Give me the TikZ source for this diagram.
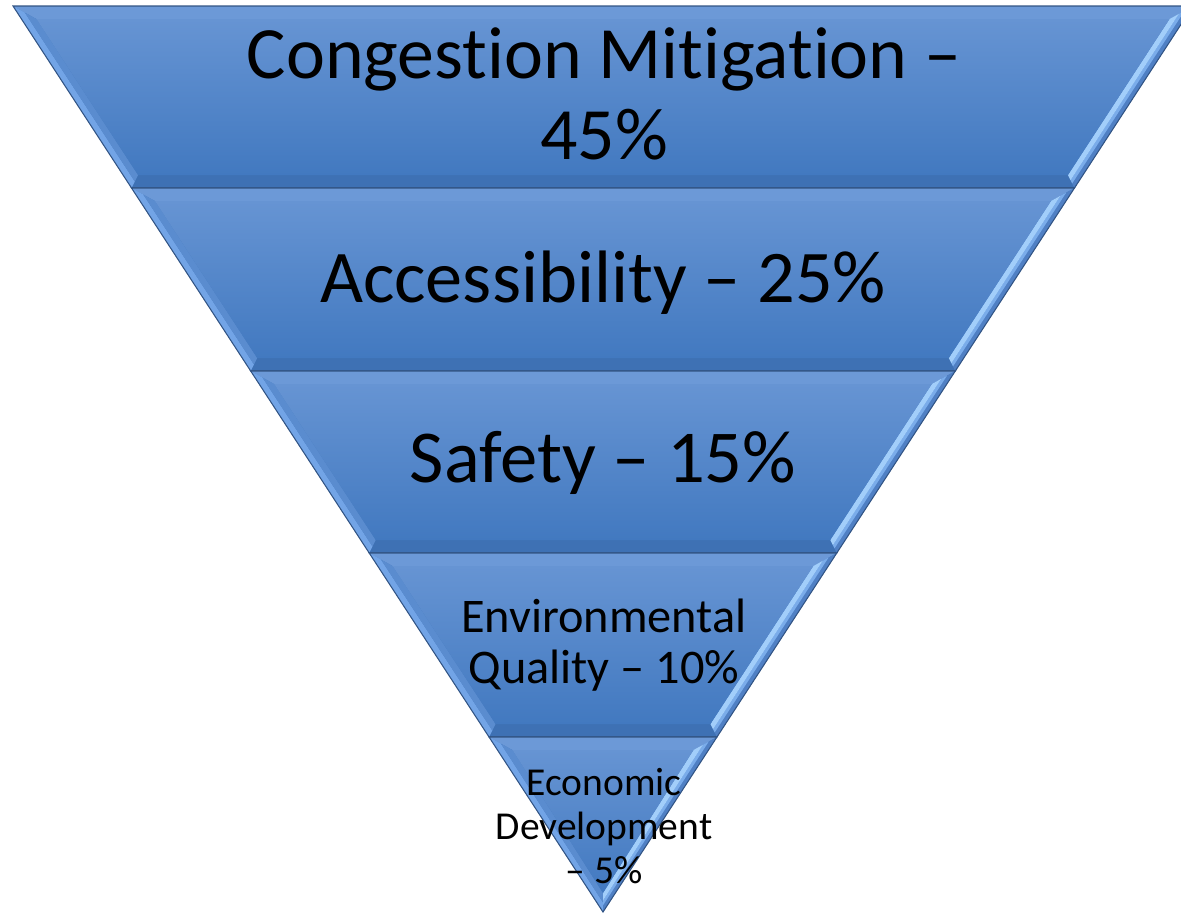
\documentclass[tikz,border=0pt]{standalone}
\usepackage{fontspec}
\setmainfont{Carlito}[RawFeature={-liga;-clig;-calt;-dlig}]
\definecolor{faceTop}{RGB}{102,148,211}
\definecolor{faceBot}{RGB}{66,121,192}
\definecolor{topBand}{RGB}{108,153,215}
\definecolor{botBand}{RGB}{62,113,180}
\definecolor{leftOuter}{RGB}{114,164,230}
\definecolor{leftInner}{RGB}{90,140,207}
\definecolor{rightOuter}{RGB}{80,128,196}
\definecolor{rightMid}{RGB}{122,172,234}
\definecolor{rightInner}{RGB}{162,206,250}
\definecolor{edgeCol}{RGB}{50,84,132}
\tikzset{
  edgeline/.style={draw=edgeCol, line width=0.6pt, line join=miter},
  lbl/.style={text=black, inner sep=0pt, align=center, anchor=base},
}
\def\tb{13}\def\hb{15}
\def\Lt#1{({13+0.6512*(\yt+\tb*#1-6)+\hb*#1},{\yt+\tb*#1})}
\def\Lb#1{({13+0.6512*(\yb-\tb*#1-6)+\hb*#1},{\yb-\tb*#1})}
\def\Rt#1{({1193-0.6512*(\yt+\tb*#1-6)-\hb*#1},{\yt+\tb*#1})}
\def\Rb#1{({1193-0.6512*(\yb-\tb*#1-6)-\hb*#1},{\yb-\tb*#1})}
\def\Ab#1{(603,{912-19*#1})}
\newcommand\pyrlayer[2]{%
  \def\yt{#1}\def\yb{#2}%
  \fill[faceBot] \Lt0 -- \Rt0 -- \Rb0 -- \Lb0 -- cycle;
  \fill[topBand] \Lt0 -- \Rt0 -- \Rt1 -- \Lt1 -- cycle;
  \fill[botBand] \Lb0 -- \Rb0 -- \Rb1 -- \Lb1 -- cycle;
  \fill[leftOuter] \Lt0 -- \Lt{.5} -- \Lb{.5} -- \Lb0 -- cycle;
  \fill[leftInner] \Lt{.5} -- \Lt1 -- \Lb1 -- \Lb{.5} -- cycle;
  \fill[rightOuter] \Rt0 -- \Rt{.35} -- \Rb{.35} -- \Rb0 -- cycle;
  \fill[rightMid] \Rt{.35} -- \Rt{.6} -- \Rb{.6} -- \Rb{.35} -- cycle;
  \fill[rightInner] \Rt{.6} -- \Rt1 -- \Rb1 -- \Rb{.6} -- cycle;
  \shade[top color=faceTop, bottom color=faceBot] \Lt1 -- \Rt1 -- \Rb1 -- \Lb1 -- cycle;
  \draw[edgeline] \Lt0 -- \Rt0 -- \Rb0 -- \Lb0 -- cycle;
}
\begin{document}
\begin{tikzpicture}[x={(0.02cm,0)}, y={(0,-0.02cm)}]
\useasboundingbox (0,0) rectangle (1181,914);
\begin{scope}
\clip (0,0) rectangle (1181,914);
\pyrlayer{6}{188}
\pyrlayer{188}{371}
\pyrlayer{371}{553}
\pyrlayer{553}{737}
% bottom triangle layer
\def\yt{737}
\fill[faceBot] \Lt0 -- \Rt0 -- \Ab0 -- cycle;
\fill[topBand] \Lt0 -- \Rt0 -- \Rt1 -- \Lt1 -- cycle;
\fill[leftOuter] \Lt0 -- \Lt{.5} -- \Ab{.5} -- \Ab0 -- cycle;
\fill[leftInner] \Lt{.5} -- \Lt1 -- \Ab1 -- \Ab{.5} -- cycle;
\fill[rightOuter] \Rt0 -- \Rt{.35} -- \Ab{.35} -- \Ab0 -- cycle;
\fill[rightMid] \Rt{.35} -- \Rt{.6} -- \Ab{.6} -- \Ab{.35} -- cycle;
\fill[rightInner] \Rt{.6} -- \Rt1 -- \Ab1 -- \Ab{.6} -- cycle;
\shade[top color=faceTop, bottom color=faceBot] \Lt1 -- \Rt1 -- \Ab1 -- cycle;
\draw[edgeline] \Lt0 -- \Rt0 -- \Ab0 -- cycle;
\end{scope}
\node[lbl, font=\fontsize{42}{46}\selectfont] (t1) at (604,159) {Congestion Mitigation –\\45\%};
\node[lbl, font=\fontsize{42.3}{46}\selectfont] (t2) at (603,302) {Accessibility – 25\%};
\node[lbl, font=\fontsize{42.5}{46}\selectfont] (t3) at (603,482) {Safety – 15\%};
\node[lbl, font=\fontsize{27.5}{29}\selectfont] (t4) at (604,683) {Environmental\\Quality – 10\%};
\node[lbl, font=\fontsize{22.5}{25}\selectfont] (t5) at (604,883) {Economic\\Development\\– 5\%};
\end{tikzpicture}
\end{document}
